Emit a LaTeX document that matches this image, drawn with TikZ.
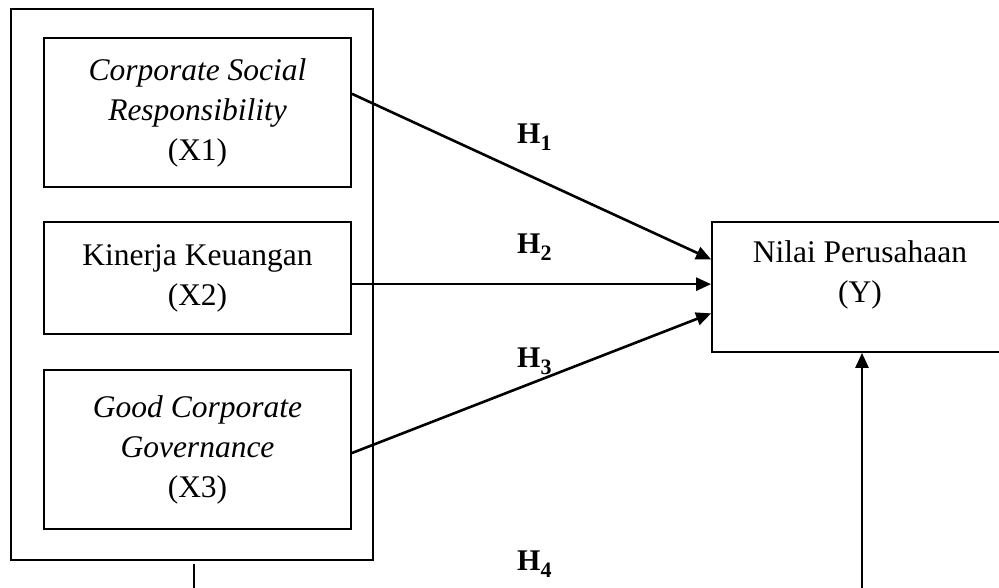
\documentclass[tikz,border=0pt]{standalone}
\usepackage{fontspec}
\setmainfont{Liberation Serif}
\usetikzlibrary{arrows.meta,calc}
\begin{document}
\begin{tikzpicture}[x=1pt,y=-1pt,
  box/.style={draw,line width=1.8pt,inner sep=0pt,align=center,font=\fontsize{31.5}{40}\selectfont},
  txt/.style={inner sep=0pt,align=center,font=\fontsize{31.5}{40}\selectfont},
  conn/.style={line width=2.6pt,-{Triangle[length=15pt,width=13pt]}},
  hyp/.style={anchor=base west,inner sep=0pt,font=\fontsize{30}{36}\selectfont\bfseries}]
\clip (0,0) rectangle (999,587);
\fill[white] (0,0) rectangle (999,587);
\node[box,minimum width=362pt,minimum height=551pt] (outer) at (192,284.5) {};
\node[box,minimum width=307pt,minimum height=149pt] (X1) at (197.5,112.5) {\itshape Corporate Social\\\itshape Responsibility\\(X1)};
\node[box,minimum width=307pt,minimum height=112pt] (X2) at (197.5,278) {Kinerja Keuangan\\(X2)};
\node[box,minimum width=307pt,minimum height=159pt] (X3) at (197.5,449.5) {\itshape Good Corporate\\\itshape Governance\\(X3)};
\node[box,minimum width=296pt,minimum height=130pt] (Y) at (860,287) {};
\node[txt] (Ytext) at (860,275) {Nilai Perusahaan\\(Y)};
\node[hyp] (h1) at (517,143) {H\raisebox{-7pt}{\fontsize{22}{22}\selectfont 1}};
\node[hyp] (h2) at (517,253) {H\raisebox{-7pt}{\fontsize{22}{22}\selectfont 2}};
\node[hyp] (h3) at (517,367) {H\raisebox{-7pt}{\fontsize{22}{22}\selectfont 3}};
\node[hyp] (h4) at (517,570) {H\raisebox{-7pt}{\fontsize{22}{22}\selectfont 4}};
\coordinate (a1) at ($(X1.north east)!0.376!(X1.south east)$);
\coordinate (a2) at ($(X2.north east)!0.554!(X2.south east)$);
\coordinate (a3) at ($(X3.north east)!0.522!(X3.south east)$);
\draw[conn] (a1) -- ($(Y.north west)!0.29!(Y.south west)$);
\draw[conn] (a2) -- (a2 -| Y.west);
\draw[conn] (a3) -- ($(Y.north west)!0.70!(Y.south west)$);
\coordinate (b1) at (194,564);
\draw[conn] (b1) -- ++(0,50) -| ([xshift=2pt]Y.south);
\end{tikzpicture}
\end{document}
